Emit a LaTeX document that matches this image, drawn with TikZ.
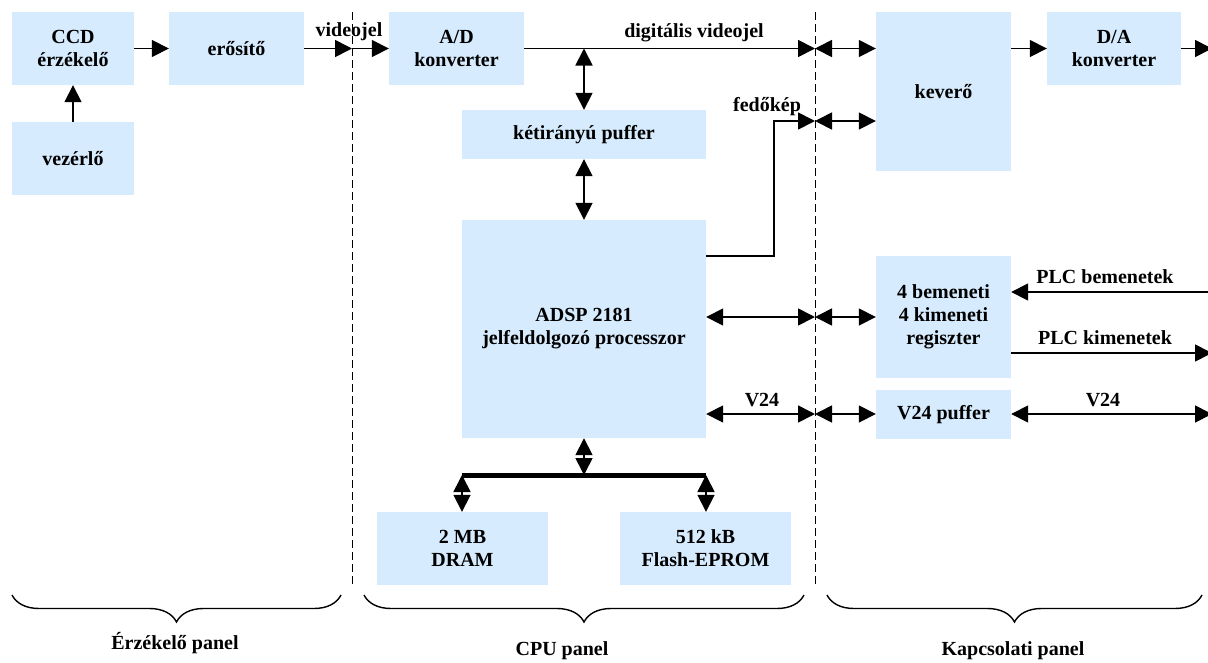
\documentclass[tikz,border=0pt]{standalone}
\usepackage{fontspec}
\setmainfont{Liberation Serif}
\usetikzlibrary{arrows.meta,decorations.pathreplacing,calc}
\definecolor{boxblue}{RGB}{214,235,253}
\begin{document}
\begin{tikzpicture}[x=1pt,y=-1pt,
 box/.style={fill=boxblue, draw=none, inner sep=0pt, align=center, font=\fontsize{20}{23}\selectfont\bfseries},
 lbl/.style={font=\fontsize{20}{23}\selectfont\bfseries, inner sep=0pt},
 tip/.tip={Triangle[length=17pt 0 0,width=17pt 0 0]},
 arr/.style={line width=1.7pt, -tip},
 darr/.style={line width=1.7pt, tip-tip},
 sep/.style={line width=1pt, dash pattern=on 8pt off 4pt},
 bus/.style={line width=5pt},
 brc/.style={decorate, decoration={brace, mirror, amplitude=27pt}, line width=1.4pt}]
\useasboundingbox (0,0) rectangle (1208,662);

% boxes
\node[box, minimum width=122pt, minimum height=73pt] (ccd) at (73,48.5) {CCD\\érzékelő};
\node[box, minimum width=135pt, minimum height=73pt] (amp) at (236.5,48.5) {erősítő};
\node[box, minimum width=122pt, minimum height=73pt] (ctrl) at (73,158.5) {vezérlő};
\node[box, minimum width=135pt, minimum height=73pt] (ad) at (456.5,48.5) {A/D\\konverter};
\node[box, minimum width=244pt, minimum height=49pt] (buf) at (584,134.5) {kétirányú puffer};
\node[box, minimum width=244pt, minimum height=218pt] (dsp) at (584,329) {ADSP 2181\\jelfeldolgozó processzor};
\node[box, minimum width=135pt, minimum height=159pt] (mix) at (943.5,91.5) {keverő};
\node[box, minimum width=134pt, minimum height=73pt] (da) at (1114,48.5) {D/A\\konverter};
\node[box, minimum width=135pt, minimum height=122pt] (reg) at (943.5,317) {4 bemeneti\\4 kimeneti\\regiszter};
\node[box, minimum width=135pt, minimum height=49pt] (v24) at (943.5,414.5) {V24 puffer};
\node[box, minimum width=171pt, minimum height=73pt] (dram) at (462.5,548.5) {2 MB\\DRAM};
\node[box, minimum width=171pt, minimum height=73pt] (flash) at (705.5,548.5) {512 kB\\Flash-EPROM};

% panel separators
\coordinate (sL1) at (352,12); \coordinate (sL2) at (352,585);
\coordinate (sR1) at (815,12); \coordinate (sR2) at (815,585);
\draw[sep] (sL1) -- (sL2);
\draw[sep] (sR1) -- (sR2);

% crossing points
\coordinate (dL1) at (352,48.5);
\coordinate (dR1) at (815,48.5);
\coordinate (dR2) at (815,121);
\coordinate (dR3) at (815,317);
\coordinate (dR4) at (815,414);
\coordinate (j1) at (584,48.5);
\coordinate (fk) at (774,121);
\coordinate (f0) at (706,256);
\coordinate (outDA) at (1212,48.5);
\coordinate (inPLC) at (1208,292);
\coordinate (outPLC) at (1212,353);
\coordinate (outV) at (1212,414);
\coordinate (busL) at (462,475);
\coordinate (busM) at (584,475);
\coordinate (busR) at (706,475);

% sensor panel
\draw[arr] (ccd.east) -- (amp.west);
\draw[arr] (ctrl.north) -- (ccd.south);
\draw[arr] (amp.east) -- (dL1);
\draw[arr] (dL1) -- (ad.west);
\node[lbl] (lvid) at (349,32) {videojel};

% CPU panel
\draw[arr] (ad.east) -- (dR1);
\node[lbl] (ldig) at (694,33) {digitális videojel};
\draw[darr] (j1) -- (buf.north);
\draw[darr] (buf.south) -- (dsp.north);
\draw[arr] (f0) -- (f0 -| fk) -- (fk) -- (dR2);
\node[lbl] (lfed) at (767,107) {fedőkép};
\draw[darr] (dsp.east |- dR3) -- (dR3);
\draw[darr] (dsp.east |- dR4) -- (dR4);
\node[lbl] (lv1) at (762,400) {V24};
\draw[darr] (dsp.south) -- (busM);
\draw[bus] (busL) -- (busR);
\draw[darr] (busL) -- (dram.north -| busL);
\draw[darr] (busR) -- (flash.north -| busR);

% connection panel
\draw[darr] (dR1) -- (mix.west |- dR1);
\draw[darr] (dR2) -- (mix.west |- dR2);
\draw[darr] (dR3) -- (reg.west |- dR3);
\draw[darr] (dR4) -- (v24.west |- dR4);
\draw[arr] (mix.east |- da.west) -- (da.west);
\draw[arr] (da.east) -- (outDA);
\draw[arr] (inPLC) -- (reg.east |- inPLC);
\draw[arr] (reg.east |- outPLC) -- (outPLC);
\draw[darr] (v24.east |- outV) -- (outV);
\node[lbl] (lplcb) at (1105,277) {PLC bemenetek};
\node[lbl] (lplck) at (1105,338) {PLC kimenetek};
\node[lbl] (lv2) at (1103,400) {V24};

% braces
\draw[brc] (12,595) -- (341,595);
\draw[brc] (364,595) -- (804,595);
\draw[brc] (827,595) -- (1202,595);
\node[lbl] (p1) at (175,643) {Érzékelő panel};
\node[lbl] (p2) at (562,651) {CPU panel};
\node[lbl] (p3) at (1013,651) {Kapcsolati panel};
\end{tikzpicture}
\end{document}
